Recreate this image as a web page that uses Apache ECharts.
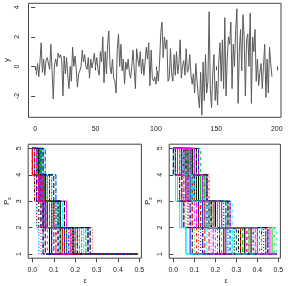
<!DOCTYPE html>
<html><head><meta charset="utf-8">
<script src="https://cdn.jsdelivr.net/npm/echarts@6/dist/echarts.min.js"></script>
<style>html,body{margin:0;padding:0;background:#fff}#c{width:288px;height:286px}</style>
</head><body><div id="c"></div>
<script>
// ---- data ----
const seriesY = [
 -0.6, 0.2,-0.7, 0.3, 1.6,-0.4, 0.5,-0.6, 0.4, 0.6,
  0.7,-0.2, 1.5,-0.3,-2.2, 0.1, 0.5, 0.0, 0.9, 0.6,
  0.8, 0.4,-2.0, 0.7,-0.5, 0.6,-0.6,-1.5, 0.0,-1.0,
  1.3, 0.0, 0.7,-0.2,-1.4,-0.5,-0.3, 0.0, 1.1, 0.3,
  0.8, 0.0,-0.2, 0.6,-0.8, 0.5,-0.1, 0.3, 0.9, 0.0,
  0.6,-0.2,-0.6, 1.0, 0.3, 2.0,-1.1, 1.0,-0.5, 1.5,
  2.4, 0.0,-0.5, 0.5,-0.8,-1.0,-1.8, 1.2, 2.2, 0.0,
  1.5,-0.3, 0.5,-1.2, 0.3,-0.2, 0.5,-0.4,-0.8, 0.0,
  1.1,-0.2,-1.5, 1.2, 0.5, 0.0, 1.0,-0.5, 0.5,-0.6,
  0.3, 1.3, 0.5, 1.6,-1.3, 1.1,-0.8,-1.0,-0.7,-1.2,
 -0.3,-1.0, 0.3, 2.3, 3.0, 0.6, 2.0, 1.2, 1.8,-1.0,
 -0.8, 1.2,-0.5,-1.0, 0.8,-0.6, 1.0,-0.5, 0.2, 1.8,
 -0.8, 0.0, 0.4,-0.6, 1.2,-0.4,-0.2, 0.8,-0.6,-1.2,
 -0.5,-1.8, 0.2,-1.0,-2.0,-2.8,-0.4,-3.3, 0.3,-2.3,
  0.8,-1.8,-1.0, 3.7,-1.5,-2.8,-0.5, 0.8,-2.3,-1.0,
 -2.6, 0.3, 1.6,-1.0, 1.8,-1.5, 3.3,-2.0, 0.5, 2.0,
  1.5, 3.0,-1.5, 1.5, 0.0, 2.5, 3.9,-2.5, 1.0, 2.5,
 -0.3, 3.5, 2.0,-2.0, 1.8, 2.2, 0.0, 3.6,-2.5, 2.0,
  1.0, 2.5,-1.0, 0.5,-1.3,-0.4, 0.2,-1.5, 0.0, 1.5,
 -2.1, 0.5,-1.8, 1.3, 0.2,-0.7
];
const timeTicks = [0, 50, 100, 150, 200];
const yTicks = [-2, 0, 2, 4];
const epsTicks = [0, 0.1, 0.2, 0.3, 0.4, 0.5];
const levelTicks = [1, 2, 3, 4, 5];
const epsEnd = 0.49;

// left panel: epsilon where each curve leaves level 5, 4, 3, 2
const leftDrop5 = [0.02,0.00,0.03,0.01,0.05,0.02,0.04,0.01,0.03,0.06, 0.02,0.00,0.04,0.03,0.01,0.01,0.02,0.01,0.00,0.04, 0.01,0.02,0.06,0.03,0.01,0.04,0.02,0.05,0.00,0.03, 0.01,0.02,0.04,0.03,0.05,0.03,0.02,0.00,0.03,0.01,
  0.01,0.03,0.02,0.00,0.04,0.02,0.05,0.01,0.03,0.02, 0.04,0.01,0.03,0.02,0.05,0.00,0.03,0.01,0.04,0.02, 0.03,0.01,0.02,0.04];
const leftDrop4 = [0.05,0.03,0.07,0.04,0.09,0.05,0.08,0.03,0.06,0.11, 0.04,0.02,0.07,0.05,0.03,0.03,0.06,0.02,0.01,0.07, 0.04,0.03,0.11,0.06,0.02,0.06,0.05,0.09,0.02,0.05, 0.03,0.04,0.08,0.06,0.07,0.05,0.04,0.01,0.06,0.03,
  0.04,0.05,0.06,0.02,0.08,0.04,0.09,0.03,0.07,0.05, 0.06,0.02,0.08,0.04,0.10,0.03,0.06,0.05,0.07,0.03, 0.06,0.04,0.05,0.08];
const leftDrop3 = [0.09,0.06,0.12,0.07,0.14,0.08,0.13,0.06,0.10,0.15, 0.07,0.04,0.11,0.09,0.06,0.06,0.10,0.02,0.03,0.12, 0.07,0.05,0.14,0.11,0.04,0.10,0.08,0.13,0.02,0.09, 0.05,0.07,0.12,0.10,0.11,0.16,0.07,0.02,0.09,0.05,
  0.08,0.10,0.09,0.05,0.13,0.07,0.12,0.08,0.11,0.10, 0.09,0.06,0.14,0.08,0.15,0.07,0.12,0.09,0.11,0.06, 0.13,0.08,0.10,0.12];
const leftDrop2 = [0.15,0.11,0.22,0.13,0.24,0.14,0.20,0.28,0.18,0.26, 0.12,0.07,0.19,0.16,0.10,0.09,0.17,0.03,0.05,0.21, 0.13,0.09,0.25,0.19,0.06,0.18,0.15,0.23,0.03,0.16, 0.08,0.12,0.22,0.17,0.27,0.20,0.13,0.04,0.20,0.05,
  0.14,0.22,0.19,0.11,0.25,0.15,0.23,0.17,0.21,0.26, 0.16,0.12,0.24,0.18,0.27,0.14,0.20,0.16,0.22,0.10, 0.19,0.15,0.23,0.26];

// right panel
const rightDrop5 = [0.03,0.06,0.01,0.09,0.04,0.12,0.02,0.07,0.05,0.10, 0.00,0.08,0.03,0.09,0.06,0.01,0.09,0.02,0.07,0.02, 0.11,0.05,0.03,0.08,0.00,0.06,0.13,0.02,0.04,0.09, 0.07,0.01,0.05,0.12,0.03,0.08,0.06,0.02,0.10,0.04, 0.01,0.07,
  0.04,0.02,0.08,0.05,0.10,0.03,0.06,0.01,0.09,0.04, 0.07,0.02,0.11,0.05,0.03,0.08,0.06,0.02,0.09,0.04, 0.07,0.01,0.05,0.10];
const rightDrop4 = [0.06,0.10,0.03,0.13,0.08,0.16,0.04,0.11,0.09,0.14, 0.01,0.12,0.07,0.17,0.10,0.02,0.13,0.04,0.12,0.05, 0.15,0.09,0.06,0.11,0.02,0.10,0.15,0.04,0.08,0.13, 0.11,0.03,0.09,0.16,0.05,0.12,0.10,0.04,0.15,0.07, 0.02,0.12,
  0.09,0.06,0.12,0.08,0.14,0.07,0.11,0.04,0.13,0.10, 0.12,0.05,0.16,0.09,0.08,0.14,0.10,0.06,0.12,0.07, 0.11,0.03,0.09,0.14];
const rightDrop3 = [0.12,0.19,0.06,0.23,0.15,0.27,0.08,0.20,0.17,0.25, 0.03,0.22,0.13,0.20,0.18,0.04,0.28,0.05,0.21,0.09, 0.26,0.16,0.10,0.19,0.05,0.17,0.23,0.07,0.14,0.22, 0.20,0.05,0.15,0.27,0.09,0.21,0.18,0.07,0.25,0.12, 0.04,0.20,
  0.16,0.12,0.19,0.14,0.24,0.11,0.18,0.09,0.22,0.17, 0.21,0.10,0.26,0.15,0.13,0.24,0.16,0.11,0.20,0.13, 0.19,0.08,0.17,0.23];
const rightDrop2 = [0.24,0.35,0.10,0.42,0.28,0.46,0.14,0.37,0.31,0.44, 0.06,0.40,0.26,0.44,0.33,0.08,0.49,0.06,0.38,0.17, 0.47,0.30,0.19,0.36,0.09,0.32,0.41,0.13,0.27,0.39, 0.37,0.11,0.29,0.45,0.16,0.34,0.32,0.12,0.48,0.22, 0.06,0.35,
  0.29,0.21,0.33,0.25,0.42,0.18,0.31,0.15,0.36,0.27, 0.39,0.20,0.45,0.24,0.23,0.43,0.26,0.19,0.34,0.22, 0.30,0.14,0.28,0.40];

const colList = ['#000000', '#FF0000', '#00CD00', '#0000FF', '#00FFFF', '#FF00FF'];
const ltyList = ['solid', [3, 3], [1, 2], [1, 2, 3, 2], [5, 2]];

// ---- chart ----
const chart = echarts.init(document.getElementById('c'), null, {renderer: 'canvas'});
const FONT = 'Liberation Sans, Arial, sans-serif';
const TXT = '#222';
const BOX = '#444';

function stepSeries(d5, d4, d3, d2, axisIdx) {
  return d5.map((a, i) => ({
    type: 'line',
    xAxisIndex: axisIdx, yAxisIndex: axisIdx,
    step: 'end',
    symbol: 'none',
    silent: true,
    animation: false,
    lineStyle: {color: colList[i % colList.length], width: 1, type: ltyList[i % ltyList.length]},
    data: [[0, 5], [a, 4], [d4[i], 3], [d3[i], 2], [d2[i], 1], [epsEnd, 1]]
  }));
}

function xAx(gi, min, max, ticks, fmt, margin) {
  return {
    type: 'value', gridIndex: gi, min: min, max: max,
    axisLine: {show: false},
    splitLine: {show: false},
    axisTick: {show: true, length: 4, customValues: ticks, lineStyle: {color: BOX, width: 1}},
    axisLabel: {customValues: ticks, formatter: fmt, fontSize: 7, color: TXT, fontFamily: FONT, margin: margin, showMinLabel: true, showMaxLabel: true}
  };
}
function yAx(gi, min, max, ticks, margin) {
  return {
    type: 'value', gridIndex: gi, min: min, max: max,
    axisLine: {show: false},
    splitLine: {show: false},
    axisTick: {show: true, length: 4, customValues: ticks, lineStyle: {color: BOX, width: 1}},
    axisLabel: {customValues: ticks, rotate: 90, fontSize: 7, color: TXT, fontFamily: FONT, margin: margin, showMinLabel: true, showMaxLabel: true}
  };
}

const option = {
  animation: false,
  backgroundColor: '#fff',
  grid: [
    {left: 28.5, top: 3.3, width: 252.5, height: 114, show: true, borderColor: BOX, borderWidth: 1, backgroundColor: 'transparent'},
    {left: 28.2, top: 144.2, width: 113.2, height: 114, show: true, borderColor: BOX, borderWidth: 1, backgroundColor: 'transparent'},
    {left: 169.2, top: 144.2, width: 111.2, height: 114, show: true, borderColor: BOX, borderWidth: 1, backgroundColor: 'transparent'}
  ],
  xAxis: [
    xAx(0, -5.5, 203.5, timeTicks, v => String(v), 8),
    xAx(1, -0.0196, 0.5096, epsTicks, v => v.toFixed(1), 8),
    xAx(2, -0.0196, 0.5096, epsTicks, v => v.toFixed(1), 8)
  ],
  yAxis: [
    yAx(0, -3.44, 4.27, yTicks, 8),
    yAx(1, 0.84, 5.16, levelTicks, 6),
    yAx(2, 0.84, 5.16, levelTicks, 6)
  ],
  series: [
    {
      type: 'line', xAxisIndex: 0, yAxisIndex: 0, symbol: 'none', silent: true,
      lineStyle: {color: '#5a5a5a', width: 1},
      data: seriesY.map((v, i) => [i + 1, v])
    }
  ].concat(stepSeries(leftDrop5, leftDrop4, leftDrop3, leftDrop2, 1))
   .concat(stepSeries(rightDrop5, rightDrop4, rightDrop3, rightDrop2, 2)),
  graphic: [
    {type: 'text', x: 7, y: 60, rotation: Math.PI / 2, style: {text: 'y', fontSize: 8, fontFamily: FONT, fill: TXT, align: 'center', verticalAlign: 'middle'}},
    {type: 'text', x: 7, y: 201, rotation: Math.PI / 2, style: {text: '{p|P}{s|ε}', fontFamily: FONT, fill: TXT, align: 'center', verticalAlign: 'middle',
      rich: {p: {fontSize: 8, lineHeight: 11, fill: TXT, fontFamily: FONT}, s: {fontSize: 6, lineHeight: 7, verticalAlign: 'bottom', fill: TXT, fontFamily: FONT}}}},
    {type: 'text', x: 148, y: 201, rotation: Math.PI / 2, style: {text: '{p|P}{s|ε}', fontFamily: FONT, fill: TXT, align: 'center', verticalAlign: 'middle',
      rich: {p: {fontSize: 8, lineHeight: 11, fill: TXT, fontFamily: FONT}, s: {fontSize: 6, lineHeight: 7, verticalAlign: 'bottom', fill: TXT, fontFamily: FONT}}}},
    {type: 'text', x: 85, y: 281, style: {text: 'ε', fontSize: 7, fontFamily: FONT, fill: TXT, align: 'center', verticalAlign: 'middle'}},
    {type: 'text', x: 226, y: 281, style: {text: 'ε', fontSize: 7, fontFamily: FONT, fill: TXT, align: 'center', verticalAlign: 'middle'}}
  ]
};
chart.setOption(option);
</script>
</body></html>
